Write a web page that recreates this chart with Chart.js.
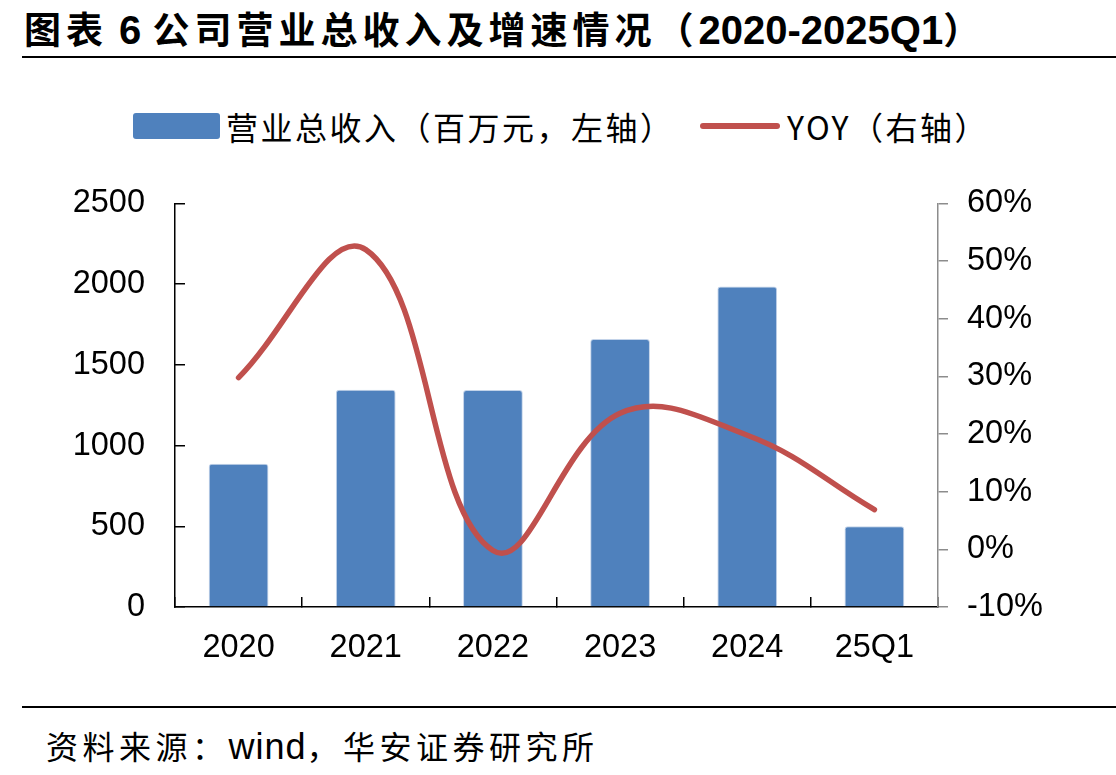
<!DOCTYPE html>
<html>
<head>
<meta charset="utf-8">
<script src="https://cdn.jsdelivr.net/npm/chart.js@4/dist/chart.umd.min.js"></script>
<style>
body{margin:0;width:1116px;height:775px;background:#fff;position:relative;overflow:hidden;font-family:"Liberation Sans",Arial,sans-serif}
#title{position:absolute;left:24px;top:0px;height:56px;line-height:56px;white-space:nowrap;font-weight:bold}
#title .c{font-family:"Noto Sans CJK SC";font-size:37px;letter-spacing:5px}
#title .l{font-family:"Liberation Sans",Arial,sans-serif;font-size:40px}
.rule{position:absolute;left:22px;right:0;height:2px;background:#000}
#legend{position:absolute;top:104px;left:0;width:1116px;height:44px;font-family:"Noto Sans CJK SC";font-size:32px}
#legend span{position:absolute;white-space:nowrap;line-height:44px;top:0}
.box{position:absolute;left:133px;top:9px;width:87px;height:26px;background:#4f81bd;border-radius:3px}
.ln{position:absolute;left:700px;top:19px;width:80px;height:6px;background:#c0504d;border-radius:3px}
#foot{position:absolute;left:46px;top:720px;white-space:nowrap;line-height:50px}
#foot .c{font-family:"Noto Sans CJK SC";font-size:32px;letter-spacing:4.5px}
#foot .l{font-family:"Liberation Sans",Arial,sans-serif;font-size:36px;letter-spacing:1px}
#wrap{position:absolute;left:0;top:144px}
</style>
</head>
<body>
<div id="title"><span class="c">图表</span><span class="l"> 6 </span><span class="c">公司营业总收入及增速情况（</span><span class="l">2020-2025Q1</span><span class="c">）</span></div>
<div class="rule" style="top:56px"></div>
<div id="legend">
  <div class="box"></div><span style="left:226px;letter-spacing:2.5px">营业总收入（百万元，左轴）</span>
  <div class="ln"></div><span style="left:787px;letter-spacing:2.5px">YOY（右轴）</span>
</div>
<div id="wrap"><canvas id="myChart" width="1116" height="536"></canvas></div>
<div class="rule" style="top:706px"></div>
<div id="foot"><span class="c">资料来源：</span><span class="l">wind</span><span class="c">，华安证券研究所</span></div>

<script>
// 数据
const categorias = ['2020', '2021', '2022', '2023', '2024', '25Q1'];
const ingresos = [888, 1346, 1344, 1660, 1986, 500];   // 百万元
const yoy = [29.8, 52.0, -0.2, 23.6, 19.8, 6.9];       // %
const ticksIzq = [0, 500, 1000, 1500, 2000, 2500];
const ticksDer = [-10, 0, 10, 20, 30, 40, 50, 60];

const tickFont = { family: '"Liberation Sans", Arial, sans-serif', size: 32.5 };

const ctx = document.getElementById('myChart');

new Chart(ctx, {
    type: 'bar',
    data: {
        labels: categorias,
        datasets: [
            {
                type: 'line',
                label: 'YOY（右轴）',
                data: yoy,
                yAxisID: 'y1',
                borderColor: '#c0504d',
                borderWidth: 5.5,
                borderCapStyle: 'round',
                pointRadius: 0,
                tension: 0.4,
                order: 0
            },
            {
                label: '营业总收入（百万元，左轴）',
                data: ingresos,
                yAxisID: 'y',
                backgroundColor: '#4f81bd',
                borderColor: '#c3d3e9',
                borderWidth: 1,
                borderRadius: { topLeft: 3, topRight: 3 },
                borderSkipped: 'bottom',
                categoryPercentage: 1,
                barPercentage: 0.47,
                order: 1
            }
        ]
    },
    options: {
        responsive: false,
        animation: false,
        layout: { padding: { top: 6, left: 0, right: 0, bottom: 0 } },
        plugins: { legend: { display: false }, tooltip: { enabled: false } },
        scales: {
            x: {
                offset: true,
                grid: { offset: true, drawOnChartArea: false, tickLength: -10, color: '#000', lineWidth: 1.5 },
                border: { color: '#000', width: 1.5 },
                ticks: { color: '#000', font: tickFont, padding: 32, maxRotation: 0 },
                afterFit: function (s) { s.height = 73; }
            },
            y: {
                position: 'left',
                min: 0,
                max: 2500,
                afterBuildTicks: function (s) { s.ticks = ticksIzq.map(v => ({ value: v })); },
                grid: { drawOnChartArea: false, tickLength: -10, color: '#000', lineWidth: 1.5 },
                border: { color: '#000', width: 1.5 },
                ticks: { color: '#000', font: tickFont, padding: 40, callback: v => String(v) },
                afterFit: function (s) { s.width = 175; }
            },
            y1: {
                position: 'right',
                min: -10,
                max: 60,
                afterBuildTicks: function (s) { s.ticks = ticksDer.map(v => ({ value: v })); },
                grid: { drawOnChartArea: false, tickLength: 10, color: '#8c8c8c', lineWidth: 1.5 },
                border: { color: '#8c8c8c', width: 1.5 },
                ticks: { color: '#000', font: tickFont, padding: 19, callback: v => v + '%' },
                afterFit: function (s) { s.width = 178; }
            }
        }
    }
});
</script>
</body>
</html>
